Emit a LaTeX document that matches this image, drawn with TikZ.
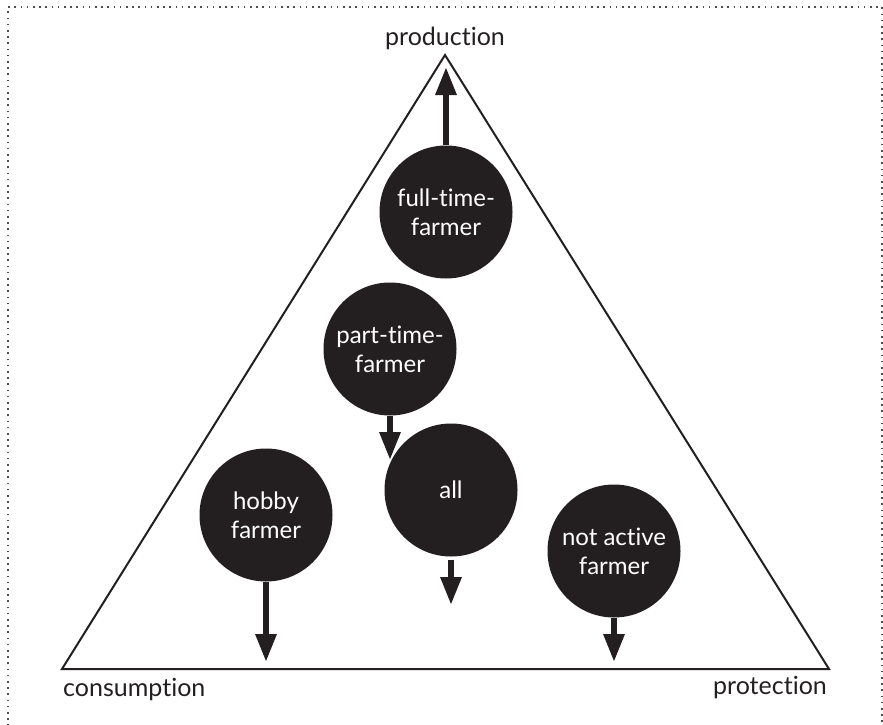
\documentclass[tikz,border=0pt]{standalone}
\usepackage{fontspec}
\setmainfont{Lato}[RawFeature={-liga;-clig;-rlig;-calt;-dlig}]
\usetikzlibrary{arrows.meta}
\definecolor{ink}{RGB}{35,31,32}
\begin{document}
\begin{tikzpicture}[x=1pt,y=-1pt,
  farmer/.style={circle,fill=ink,text=white,minimum size=133pt,inner sep=0pt,
    align=center,font=\fontsize{24}{29}\selectfont},
  corner/.style={text=ink,font=\fontsize{25}{28}\selectfont,inner sep=0pt},
  push/.style={draw=ink,line width=6pt,-{Triangle[length=28pt,width=20pt]}},
  frame/.style={draw=ink!80,line width=1.6pt,dash pattern=on 1.6pt off 4.6pt}]
\useasboundingbox (0,0) rectangle (883,725);
% dotted frame
\draw[frame] (8,726) -- (8,7) -- (882,7) -- (882,726);
% triangle corners
\coordinate (top) at (445,55);
\coordinate (left) at (62,669);
\coordinate (right) at (829,669);
\draw[ink,line width=2pt,line join=miter] (top) -- (right) -- (left) -- cycle;
% corner labels
\node[corner,anchor=base] (prod) at (445,46) {production};
\node[corner,anchor=base west] (cons) at (63,696) {consumption};
\node[corner,anchor=base east] (prot) at (827,694) {protection};
% farmer types
\node[farmer] (ft) at (446,212) {full-time-\\farmer};
\node[farmer] (pt) at (390,349) {part-time-\\farmer};
\node[farmer] (al) at (451,490) {all};
\node[farmer] (hb) at (266,515) {\raisebox{-4pt}{\parbox{100pt}{\centering hobby\\farmer}}};
\node[farmer] (na) at (614,551) {not active\\farmer};
% arrow ends
\coordinate (ftE) at (446,67);
\coordinate (ptE) at (390,460);
\coordinate (alE) at (451,605);
\coordinate (hbE) at (266,662);
\coordinate (naE) at (614,662);
% arrows
\draw[push] (ft.north) -- (ftE);
\draw[push] (pt.south) -- (ptE);
\draw[push,shorten <=3pt] (al.south) -- (alE);
\draw[push] (hb.south) -- (hbE);
\draw[push] (na.south) -- (naE);
\end{tikzpicture}
\end{document}
